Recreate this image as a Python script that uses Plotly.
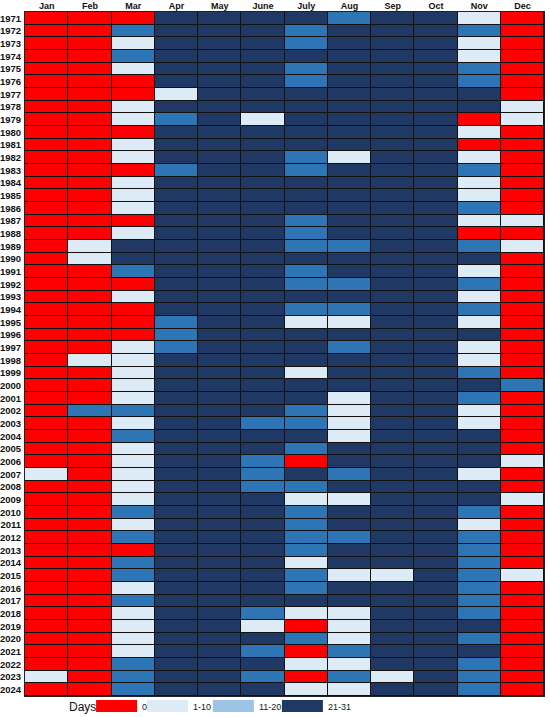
import plotly.graph_objects as go

# day buckets and colours
categories = ["0", "1-10", "11-20", "21-31"]
cell_colors = ["#FF0000", "#DDEBF7", "#2E75B6", "#1F3864"]
legend_colors = ["#FF0000", "#DDEBF7", "#9DC3E6", "#1F3864"]

months = ["Jan", "Feb", "Mar", "Apr", "May", "June",
          "July", "Aug", "Sep", "Oct", "Nov", "Dec"]
years = list(range(1971, 2025))

# one string per year, one letter per month
# R = 0 days, L = 1-10, M = 11-20, D = 21-31
rows = [
    "RRRDDDDMDDLR",  # 1971
    "RRMDDDMDDDMR",
    "RRLDDDMDDDLR",
    "RRMDDDDDDDLR",
    "RRLDDDMDDDMR",
    "RRRDDDMDDDMR",
    "RRRLDDDDDDDR",
    "RRLDDDDDDDDL",
    "RRLMDLDDDDRL",
    "RRRDDDDDDDLR",  # 1980
    "RRLDDDDDDDRR",
    "RRLDDDMLDDLR",
    "RRRMDDMDDDMR",
    "RRLDDDDDDDLR",
    "RRLDDDDDDDLR",
    "RRLDDDDDDDMR",
    "RRRDDDMDDDLL",
    "RRLDDDMDDDRR",
    "RLDDDDMMDDML",
    "RLDDDDDDDDDR",  # 1990
    "RRMDDDMDDDLR",
    "RRRDDDMMDDMR",
    "RRLDDDDDDDLR",
    "RRRDDDMMDDMR",
    "RRRMDDLLDDLR",
    "RRRMDDDDDDDR",
    "RRLMDDDMDDLR",
    "RLLDDDDDDDLR",
    "RRLDDDLDDDMR",
    "RRLDDDDDDDDM",  # 2000
    "RRLDDDDLDDMR",
    "RMMDDDMLDDLR",
    "RRLDDMMLDDLR",
    "RRMDDDDLDDDR",
    "RRLDDDMDDDDR",
    "RRLDDMRDDDDL",
    "LRLDDMDMDDLR",
    "RRLDDMMDDDDR",
    "RRLDDDLLDDDL",
    "RRMDDDMDDDMR",  # 2010
    "RRLDDDMDDDLR",
    "RRMDDDMMDDMR",
    "RRRDDDMDDDMR",
    "RRMDDDLDDDMR",
    "RRMDDDMLLDML",
    "RRLDDDMDDDMR",
    "RRMDDDDDDDMR",
    "RRLDDMLLDDMR",
    "RRLDDLRLDDDR",
    "RRLDDDMLDDMR",  # 2020
    "RRLDDMRMDDDR",
    "RRMDDDLLDDMR",
    "LRMDDMRMLDMR",
    "RRMDDDLLDDMR",  # 2024
]

code = {"R": 0, "L": 1, "M": 2, "D": 3}
z = [[code[c] for c in r] for r in rows]
labels = [[categories[code[c]] for c in r] for r in rows]

colorscale = []
for i, c in enumerate(cell_colors):
    colorscale.append([i / 4, c])
    colorscale.append([(i + 1) / 4, c])

fig = go.Figure(
    go.Heatmap(
        x=months,
        y=[str(y) for y in years],
        z=z,
        text=labels,
        hovertemplate="%{x} %{y}: %{text} days<extra></extra>",
        colorscale=colorscale,
        zmin=-0.5,
        zmax=3.5,
        showscale=False,
        xgap=1,
        ygap=1,
    )
)

font_family = "Liberation Sans, Arial, sans-serif"

fig.update_xaxes(
    side="top",
    type="category",
    automargin=False,
    showgrid=False,
    zeroline=False,
    ticks="",
    showline=True,
    mirror=True,
    linecolor="#222",
    linewidth=1,
    ticklabelstandoff=-2,
    tickfont=dict(family=font_family, size=9, color="#111", weight="bold"),
    fixedrange=True,
)
fig.update_yaxes(
    type="category",
    autorange="reversed",
    automargin=False,
    showgrid=False,
    zeroline=False,
    ticks="",
    showline=True,
    mirror=True,
    linecolor="#222",
    linewidth=1,
    ticklabelstandoff=1,
    tickfont=dict(family=font_family, size=9.5, color="#111", weight="bold"),
    fixedrange=True,
)

# legend drawn below the grid
shapes = []
annotations = [
    dict(x=0.081, y=-0.016, xref="paper", yref="paper", text="Days",
         showarrow=False, xanchor="left", yanchor="middle",
         font=dict(family=font_family, size=12, color="#111")),
]
box_x = [0.137, 0.235, 0.362, 0.495]
for i, cat in enumerate(categories):
    x0 = box_x[i]
    shapes.append(dict(type="rect", xref="paper", yref="paper",
                       x0=x0, x1=x0 + 0.079, y0=-0.0234, y1=-0.0058,
                       fillcolor=legend_colors[i], line=dict(width=0)))
    annotations.append(dict(x=x0 + 0.085, y=-0.016, xref="paper", yref="paper",
                            text=cat, showarrow=False, xanchor="left",
                            yanchor="middle",
                            font=dict(family=font_family, size=9, color="#222")))

fig.update_layout(
    width=550,
    height=717,
    margin=dict(l=25, r=6, t=12, b=21),
    plot_bgcolor="#111111",
    paper_bgcolor="white",
    shapes=shapes,
    annotations=annotations,
)

# drop the default page margin so the figure fills the window
fig.write_html("out.html", config={"displayModeBar": False},
               post_script="document.body.style.margin='0';")
